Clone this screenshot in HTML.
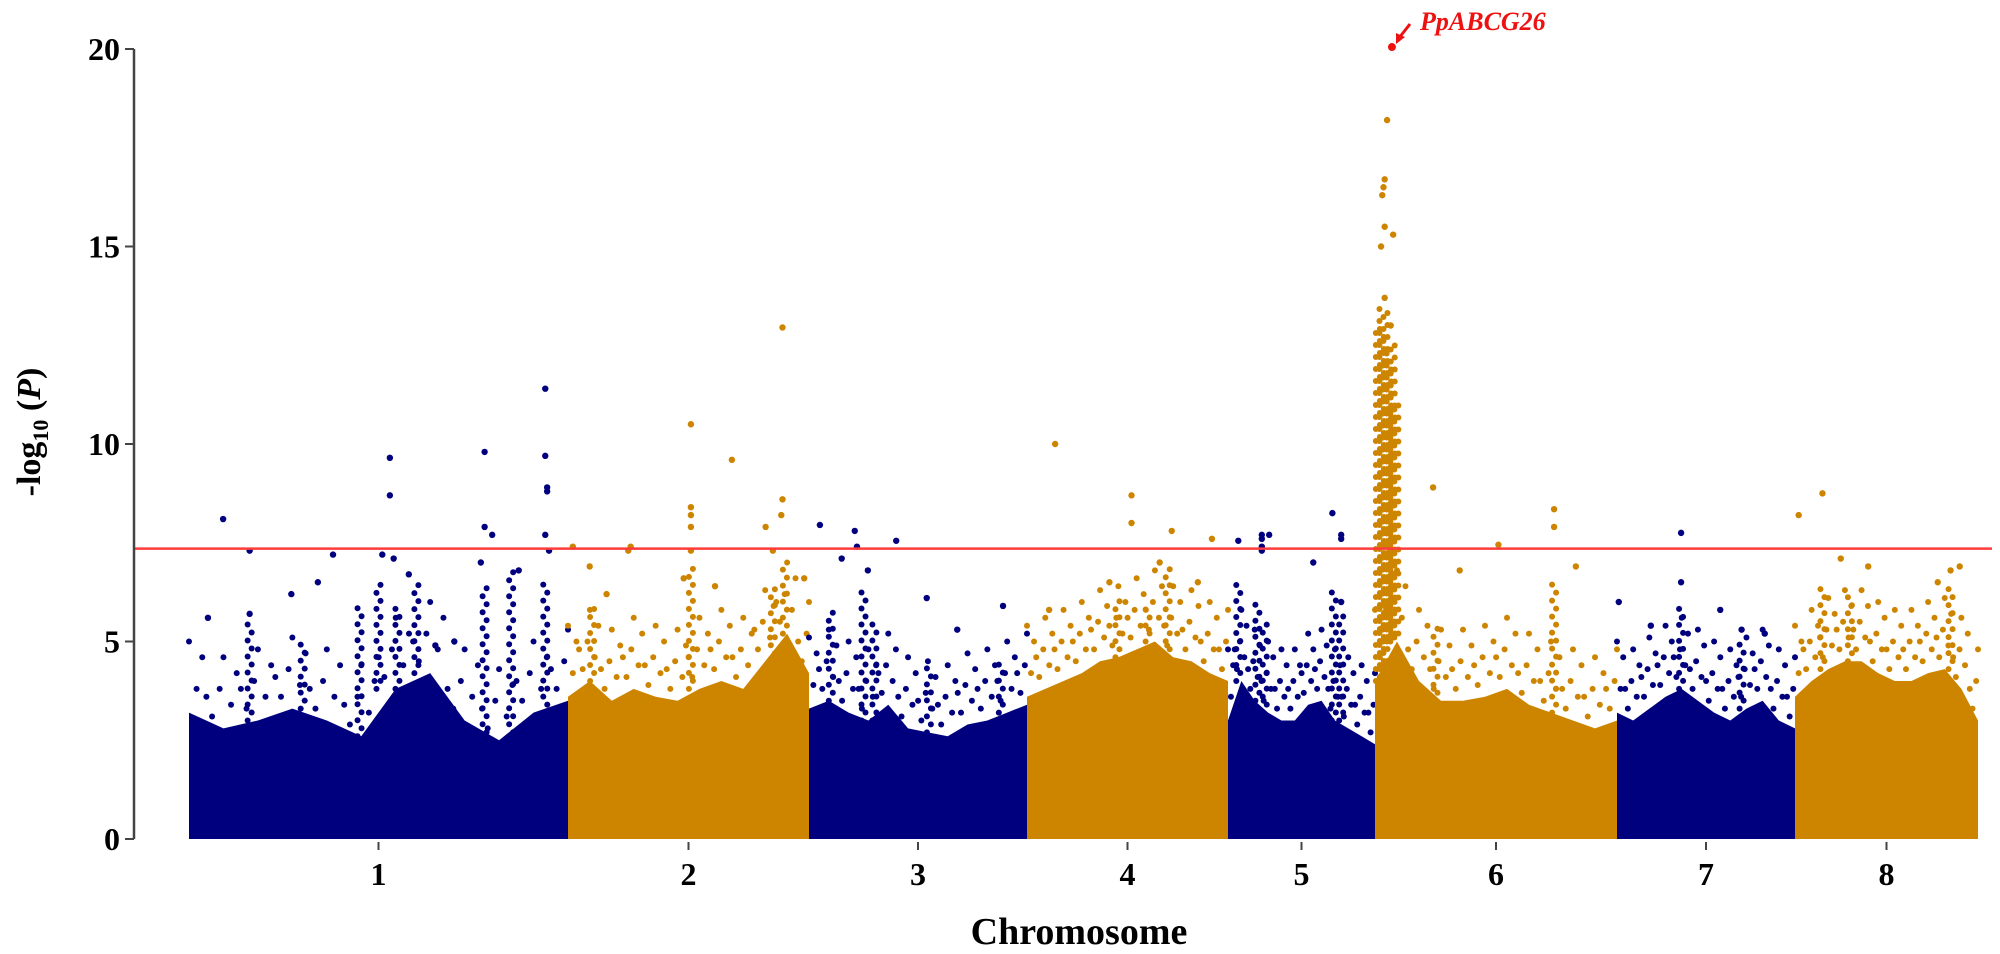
<!DOCTYPE html>
<html><head><meta charset="utf-8">
<style>
html,body{margin:0;padding:0;background:#fff;}
svg{display:block;font-family:"Liberation Serif",serif;}
</style></head>
<body>
<svg id="chart" width="2000" height="954" viewBox="0 0 2000 954" xmlns="http://www.w3.org/2000/svg">
  <g id="plot"></g>
  <g id="axes"></g>
  <text x="1079" y="944" text-anchor="middle" font-size="38" font-weight="bold">Chromosome</text>
  <text transform="translate(40,432) rotate(-90)" text-anchor="middle" font-size="34" font-weight="bold">-log<tspan font-size="22" dy="8">10</tspan><tspan dy="-8"> (</tspan><tspan font-style="italic">P</tspan>)</text>
  <g>
    <line x1="1410" y1="24" x2="1399" y2="38" stroke="#ee1111" stroke-width="3"/>
    <polygon points="1396,44 1396,33 1405,37" fill="#ee1111"/>
    <text x="1420" y="30" font-size="26" font-weight="bold" font-style="italic" fill="#ee1111">PpABCG26</text>
  </g>
</svg>
<script>
const chromNames = ["1","2","3","4","5","6","7","8"];
const chromLengths = [379,241,218,201,147,242,178,183];
const yTicks = [0,5,10,15,20];
const threshold = 7.35;
const envelopes = [
  [3.2,2.8,3.0,3.3,3.0,2.6,3.8,4.2,3.0,2.5,3.2,3.5],
  [3.6,4.0,3.5,3.8,3.6,3.5,3.8,4.0,3.8,4.5,5.2,4.2],
  [3.3,3.5,3.2,3.0,3.4,2.8,2.7,2.6,2.9,3.0,3.2,3.4],
  [3.6,3.8,4.0,4.2,4.5,4.6,4.8,5.0,4.6,4.5,4.2,4.0],
  [3.0,4.0,3.5,3.2,3.0,3.0,3.4,3.5,3.0,2.8,2.6,2.4],
  [4.0,5.0,4.0,3.5,3.5,3.6,3.8,3.4,3.2,3.0,2.8,3.0],
  [3.2,3.0,3.3,3.6,3.8,3.5,3.2,3.0,3.3,3.5,3.0,2.8],
  [3.6,4.0,4.3,4.5,4.5,4.2,4.0,4.0,4.2,4.3,3.8,3.0]
];
const towers = [
  [[0.16,5.5],[0.30,5.0],[0.45,6.0],[0.50,6.5],[0.55,6.0],[0.60,6.5],[0.78,6.5],[0.85,6.8],[0.94,6.5]],
  [[0.10,6.0],[0.51,7.0],[0.85,6.5],[0.90,7.0]],
  [[0.10,5.8],[0.25,6.3],[0.30,5.5],[0.55,4.5],[0.88,4.5]],
  [[0.45,6.2],[0.60,6.0],[0.70,7.0]],
  [[0.07,6.5],[0.20,6.0],[0.25,5.5],[0.72,6.3],[0.77,5.8]],
  [[0.02,13.0],[0.035,13.5],[0.05,12.0],[0.065,12.5],[0.08,11.0],[0.25,5.5],[0.74,6.5]],
  [[0.36,6.0],[0.70,5.0]],
  [[0.15,6.5],[0.30,6.2],[0.85,6.5]]
];
const outliers = [
  [[0.09,8.1],[0.05,5.6],[0.16,7.3],[0.16,5.7],[0.38,7.2],[0.27,6.2],[0.34,6.5],[0.53,9.65],[0.53,8.7],[0.51,7.2],[0.54,7.1],[0.58,6.7],[0.78,9.8],[0.78,7.9],[0.80,7.7],[0.77,7.0],[0.87,6.8],[0.94,11.4],[0.94,9.7],[0.945,8.9],[0.945,8.8],[0.94,7.7],[0.95,7.3],[0.70,5.0],[0.65,4.9]],
  [[0.02,7.4],[0.09,6.9],[0.16,6.2],[0.26,7.4],[0.25,7.3],[0.51,10.5],[0.51,8.4],[0.51,8.2],[0.51,7.9],[0.51,7.3],[0.68,9.6],[0.89,12.95],[0.89,8.6],[0.885,8.2],[0.85,7.3],[0.82,7.9],[0.98,6.6],[0.61,6.4],[0.48,6.6]],
  [[0.05,7.95],[0.21,7.8],[0.22,7.4],[0.40,7.55],[0.15,7.1],[0.27,6.8],[0.54,6.1],[0.89,5.9],[0.68,5.3]],
  [[0.14,10.0],[0.52,8.7],[0.52,8.0],[0.72,7.8],[0.92,7.6],[0.11,5.8],[0.41,6.5],[0.66,7.0],[0.85,6.5]],
  [[0.07,7.55],[0.23,7.7],[0.23,7.6],[0.23,7.4],[0.23,7.3],[0.28,7.7],[0.71,8.25],[0.77,7.7],[0.77,7.6],[0.58,7.0],[0.77,6.0]],
  [[0.05,18.2],[0.04,16.7],[0.035,16.5],[0.03,16.3],[0.04,15.5],[0.025,15.0],[0.075,15.3],[0.04,13.7],[0.065,13.0],[0.24,8.9],[0.51,7.45],[0.74,8.35],[0.74,7.9],[0.35,6.8],[0.83,6.9]],
  [[0.36,7.75],[0.36,6.5],[0.01,6.0],[0.19,5.4],[0.58,5.8],[0.70,5.3],[0.83,5.2]],
  [[0.02,8.2],[0.15,8.75],[0.25,7.1],[0.40,6.9],[0.85,6.8],[0.90,6.9],[0.78,6.5]]
];
const topHit = {chrom:5, frac:0.07, value:20.05};

const NS = "http://www.w3.org/2000/svg";
const X0 = 189, X1 = 1978, Y0 = 839, Y20 = 49, AXIS_X = 134;
const totalLen = chromLengths.reduce((a,b)=>a+b,0);
const starts = [];
let acc = 0;
chromLengths.forEach(l=>{starts.push(acc); acc+=l;});
function xPos(c, frac){ return X0 + (starts[c] + frac*chromLengths[c]) / totalLen * (X1-X0); }
function yPos(v){ return Y0 - v/20*(Y0-Y20); }
const colors = ["#00007f","#cd8500"];
const plot = document.getElementById('plot');
const axes = document.getElementById('axes');
function mk(tag, attrs, parent){ const e=document.createElementNS(NS,tag); for(const k in attrs) e.setAttribute(k,attrs[k]); parent.appendChild(e); return e; }

chromNames.forEach((name,c)=>{
  const col = colors[c%2];
  const g = mk('g',{},plot);
  
  
  const env = envelopes[c];
  const n = env.length;
  let pts = [xPos(c,0)+','+yPos(0)];
  env.forEach((v,i)=>{
    const f = i/(n-1);
    pts.push(xPos(c,f)+','+yPos(v));
  });
  pts.push(xPos(c,1)+','+yPos(0));
  const poly = mk('polygon',{points:pts.join(' '),fill:col},g);
  
  
  // sparse scatter above the dense region
  env.forEach((v,i)=>{
    const f = i/(n-1);
    const offs = [[-0.03,0.3],[0.02,0.6],[-0.01,1.0],[0.035,1.4],[-0.045,0.8],[0.0,1.8]];
    offs.forEach(o=>{
      const ff = f+o[0];
      if(ff<0||ff>1) return;
      const dot = mk('circle',{cx:xPos(c,ff),cy:yPos(v+o[1]),r:3,fill:col},g);
      
      
    });
  });
  towers[c].forEach(t=>{
    const xb = xPos(c,t[0]);
    const base = env[Math.round(t[0]*(n-1))];
    const big = t[1] > 9;
    const step = big ? 4 : 8;
    let k = 0;
    for(let y=yPos(base); y>=yPos(t[1]); y-=step){
      const dx = big ? ((k%3)-1)*4 : ((k%2)*2-1)*2;
      const dot = mk('circle',{cx:xb+dx,cy:y,r:3,fill:col},g);
      
      
      k++;
    }
  });
  outliers[c].forEach(p=>{
    const dot = mk('circle',{cx:xPos(c,p[0]),cy:yPos(p[1]),r:3.2,fill:col},g);
    
    
  });
  const cx = xPos(c,0.5);
  mk('line',{x1:cx,x2:cx,y1:Y0+3,y2:Y0+11,stroke:'#444','stroke-width':2},axes);
  const lab = mk('text',{x:cx,y:Y0+46,'text-anchor':'middle','font-size':32,'font-weight':'bold'},axes);
  lab.textContent = name;
  
  
});

const hit = mk('circle',{cx:xPos(topHit.chrom,topHit.frac),cy:yPos(topHit.value),r:4,fill:'#ee1111'},plot);



const th = mk('line',{x1:AXIS_X,x2:1992,y1:yPos(threshold),y2:yPos(threshold),stroke:'#ff3b3b','stroke-width':2.5},plot);



const yax = mk('line',{x1:AXIS_X,x2:AXIS_X,y1:yPos(20),y2:yPos(0),stroke:'#444','stroke-width':2.5},axes);


yTicks.forEach(v=>{
  mk('line',{x1:AXIS_X-9,x2:AXIS_X,y1:yPos(v),y2:yPos(v),stroke:'#444','stroke-width':2},axes);
  const t = mk('text',{x:AXIS_X-14,y:yPos(v)+11,'text-anchor':'end','font-size':32,'font-weight':'bold'},axes);
  t.textContent = v;
  
  
});
</script>
</body></html>
